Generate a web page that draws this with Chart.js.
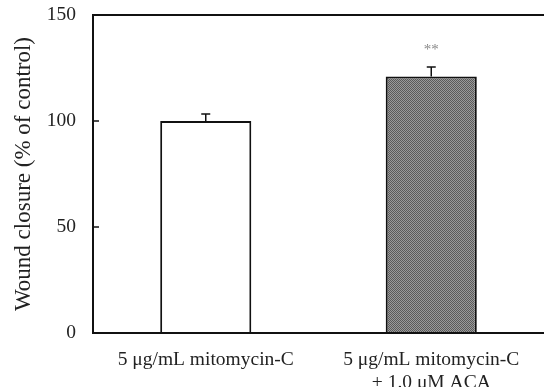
<!DOCTYPE html>
<html lang="en">
<head>
  <meta charset="UTF-8">
  <title>Wound closure</title>
  <script src="https://cdn.jsdelivr.net/npm/chart.js"></script>
  <style>
    html, body { margin: 0; padding: 0; background: #fff; }
    canvas { display: block; }
  </style>
</head>
<body>
  <canvas id="woundChart" width="544" height="387"></canvas>

  <script>
    const categories = [
      '5 \u03bcg/mL mitomycin-C',
      ['5 \u03bcg/mL mitomycin-C', '+ 1.0 \u03bcM ACA']
    ];
    const closure = [100, 121];
    const closureErr = [3.3, 4.5];
    const marks = ['', '**'];
    const yTicks = [0, 50, 100, 150];

    const serif = "'Liberation Serif', 'DejaVu Serif', serif";

    // checker fill for the second bar
    function checker() {
      const c = document.createElement('canvas');
      c.width = 2; c.height = 2;
      const g = c.getContext('2d');
      g.fillStyle = '#9a9a9a'; g.fillRect(0, 0, 2, 2);
      g.fillStyle = '#5a5a5a'; g.fillRect(0, 0, 1, 1); g.fillRect(1, 1, 1, 1);
      return g.createPattern(c, 'repeat');
    }

    const extras = {
      id: 'extras',
      afterDatasetsDraw(chart) {
        const { ctx, chartArea, scales: { x, y } } = chart;
        ctx.save();
        ctx.strokeStyle = '#111';
        ctx.lineWidth = 1.5;
        // error bars (upper half only)
        closure.forEach((v, i) => {
          const cx = x.getPixelForValue(i);
          const top = y.getPixelForValue(v + closureErr[i]);
          const base = y.getPixelForValue(v);
          ctx.beginPath();
          ctx.moveTo(cx, base); ctx.lineTo(cx, top);
          ctx.moveTo(cx - 4.5, top); ctx.lineTo(cx + 4.5, top);
          ctx.stroke();
          if (marks[i]) {
            ctx.fillStyle = '#888';
            ctx.font = '15px ' + serif;
            ctx.textAlign = 'center';
            ctx.textBaseline = 'middle';
            ctx.fillText(marks[i], cx, top - 17);
          }
        });
        // frame: left, bottom, top (no right side)
        ctx.strokeStyle = '#111';
        ctx.lineWidth = 2;
        ctx.beginPath();
        ctx.moveTo(chart.width, chartArea.top);
        ctx.lineTo(chartArea.left, chartArea.top);
        ctx.lineTo(chartArea.left, chartArea.bottom);
        ctx.lineTo(chart.width, chartArea.bottom);
        ctx.stroke();
        // inward ticks
        ctx.lineWidth = 1.5;
        yTicks.forEach(t => {
          const py = y.getPixelForValue(t);
          ctx.beginPath();
          ctx.moveTo(chartArea.left, py);
          ctx.lineTo(chartArea.left + 6, py);
          ctx.stroke();
        });
        ctx.restore();
      }
    };

    new Chart(document.getElementById('woundChart').getContext('2d'), {
      type: 'bar',
      data: {
        labels: categories,
        datasets: [{
          data: closure,
          backgroundColor: ['#ffffff', checker()],
          borderColor: '#111',
          borderWidth: 2,
          borderSkipped: 'bottom',
          barPercentage: 0.404,
          categoryPercentage: 1
        }]
      },
      options: {
        responsive: false,
        animation: false,
        layout: { padding: { top: 15, right: 0, left: 0, bottom: 0 } },
        plugins: { legend: { display: false }, tooltip: { enabled: false } },
        scales: {
          x: {
            grid: { display: false, drawTicks: false },
            border: { display: false },
            ticks: { color: '#222', font: { family: serif, size: 19.5 }, padding: 15, maxRotation: 0 },
            afterFit(s) { s.height = 54; s.paddingLeft = 0; s.paddingRight = 0; }
          },
          y: {
            min: 0, max: 150,
            afterBuildTicks(s) { s.ticks = yTicks.map(v => ({ value: v })); },
            grid: { display: false, drawTicks: false },
            border: { display: false },
            ticks: { color: '#222', font: { family: serif, size: 19.5 }, padding: 17 },
            title: {
              display: true,
              text: 'Wound closure (% of control)',
              color: '#222',
              font: { family: serif, size: 23 },
              padding: { top: 10, bottom: 4 }
            },
            afterFit(s) { s.width = 93; s.paddingTop = 0; s.paddingBottom = 0; }
          }
        }
      },
      plugins: [extras]
    });
  </script>
</body>
</html>
